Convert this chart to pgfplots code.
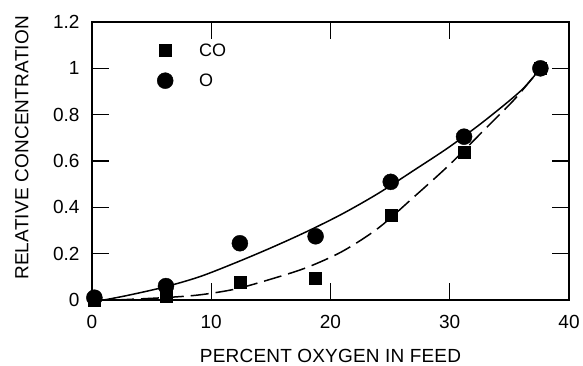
\documentclass[border=0pt]{standalone}
\usepackage{fontspec}
\setmainfont{Liberation Sans}
\usepackage{pgfplots}
\pgfplotsset{compat=1.18}
\begin{document}
\begin{tikzpicture}
\begin{axis}[
  name=ax,
  scale only axis, width=477pt, height=278pt,
  xmin=0, xmax=40, ymin=0, ymax=1.2,
  xtick={0,10,20,30,40},
  ytick={0,0.2,0.4,0.6,0.8,1,1.2},
  yticklabels={0,0.2,0.4,0.6,0.8,1,1.2},
  tick align=inside, major tick length=17pt,
  axis line style={line width=1.6pt},
  tick style={line width=1.3pt, black},
  /pgf/number format/assume math mode=true,
  ticklabel style={font=\fontsize{19}{21}\selectfont},
  yticklabel style={xshift=-9pt},
  xticklabel style={yshift=-12pt},
  xlabel={PERCENT OXYGEN IN FEED},
  ylabel={RELATIVE CONCENTRATION},
  label style={font=\fontsize{19}{21}\selectfont\addfontfeatures{LetterSpace=1}},
  xlabel style={at={(axis description cs:0.5,0)}, anchor=center, yshift=-56pt},
  ylabel style={at={(axis description cs:-0.147,0.547)}, anchor=center},
  legend style={draw=none, fill=none, at={(axis cs:5.2,1.125)}, anchor=north west,
    font=\fontsize{18}{20}\selectfont, row sep=12pt,
    /tikz/every odd column/.append style={column sep=24pt}},
  legend cell align=left,
]
% fitted curves
\addplot[forget plot, black, line width=1.5pt, smooth] coordinates {
 (1,0) (3,0.02) (6,0.055) (9,0.1) (12,0.16) (15,0.225) (18,0.295) (21,0.372) (24,0.46) (27,0.56) (30,0.662) (33,0.777) (36,0.905) (37.6,1.0)};
\addplot[forget plot, black, line width=1.5pt, smooth, dash pattern=on 18pt off 7pt] coordinates {
 (2,0) (6,0.01) (9,0.022) (12,0.047) (15,0.09) (18,0.14) (21,0.21) (24,0.31) (27,0.445) (30,0.585) (33,0.74) (35.5,0.87) (37.6,1.0)};
% data
\addplot[only marks, mark=square*, mark size=6pt, black] coordinates {
 (0.2,0.0) (6.2,0.015) (12.4,0.075) (18.75,0.095) (25.05,0.365) (31.2,0.636) (37.6,1.0)};
\addlegendentry{CO}
\addplot[only marks, mark=*, mark size=8pt, black] coordinates {
 (0.2,0.01) (6.2,0.06) (12.4,0.245) (18.75,0.275) (25.05,0.51) (31.2,0.705) (37.6,1.0)};
\addlegendentry{O}
\end{axis}
\pgfresetboundingbox
\path[use as bounding box] ([shift={(-92pt,-66pt)}]ax.south west) rectangle ([shift={(14pt,22pt)}]ax.north east);
\end{tikzpicture}
\end{document}
